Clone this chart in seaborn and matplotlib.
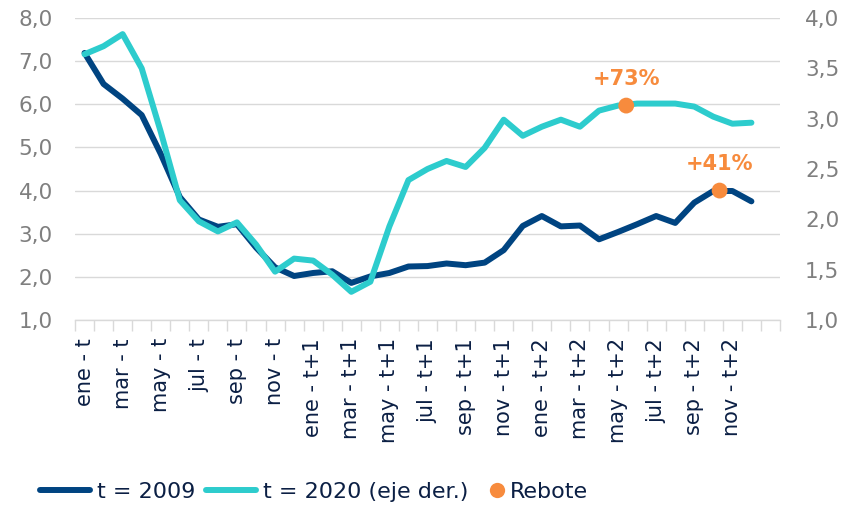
import numpy as np
import pandas as pd
import matplotlib
matplotlib.use("Agg")
import matplotlib.pyplot as plt
from matplotlib.lines import Line2D
import seaborn as sns

# Monthly series (36 months from "ene - t" to "dic - t+2")
serie_2009 = [7.19, 6.47, 6.13, 5.75, 4.85, 3.85, 3.33, 3.16, 3.22, 2.68,
              2.22, 2.02, 2.09, 2.13, 1.86, 2.01, 2.09, 2.24, 2.25, 2.31,
              2.27, 2.33, 2.62, 3.18, 3.41, 3.17, 3.19, 2.87, 3.04, 3.22,
              3.41, 3.25, 3.72, 3.99, 3.99, 3.75]
serie_2020 = [3.64, 3.72, 3.84, 3.50, 2.87, 2.19, 1.98, 1.88, 1.97, 1.75,
              1.48, 1.61, 1.59, 1.45, 1.28, 1.38, 1.93, 2.39, 2.50, 2.58,
              2.52, 2.71, 2.99, 2.83, 2.92, 2.99, 2.92, 3.08, 3.13, 3.15,
              3.15, 3.15, 3.12, 3.02, 2.95, 2.96]

x_labels = ["ene - t", "mar - t", "may - t", "jul - t", "sep - t", "nov - t",
            "ene - t+1", "mar - t+1", "may - t+1", "jul - t+1", "sep - t+1", "nov - t+1",
            "ene - t+2", "mar - t+2", "may - t+2", "jul - t+2", "sep - t+2", "nov - t+2"]
n_categories = 37

# Rebound markers: 2020 (right axis) and 2009 (left axis)
rebote_2020_x, rebote_2020_y, rebote_2020_txt = 28.43, 3.13, "+73%"
rebote_2009_x, rebote_2009_y, rebote_2009_txt = 33.33, 4.0, "+41%"

left_ticks = [1, 2, 3, 4, 5, 6, 7, 8]
right_ticks = [1.0, 1.5, 2.0, 2.5, 3.0, 3.5, 4.0]

NAVY = "#004481"
AQUA = "#2DCCCD"
ORANGE = "#F78B3D"
TEXT_NAVY = "#0B1F44"
GREY = "#7F7F7F"
GRID = "#D9D9D9"

sns.set_theme(style="white")
plt.rcParams["font.family"] = ["DejaVu Sans"]

df = pd.DataFrame({"pos": np.arange(len(serie_2009)),
                   "v2009": serie_2009, "v2020": serie_2020})

fig = plt.figure(figsize=(8.44, 5.05), dpi=100)
ax = fig.add_axes([75 / 844, 185 / 505, 705 / 844, 302 / 505])

sns.lineplot(data=df, x="pos", y="v2009", ax=ax, color=NAVY, lw=4.3,
             solid_capstyle="round", solid_joinstyle="round", legend=False)

ax2 = ax.twinx()
sns.lineplot(data=df, x="pos", y="v2020", ax=ax2, color=AQUA, lw=4.3,
             solid_capstyle="round", solid_joinstyle="round", legend=False)

# Rebound dots and labels
sns.scatterplot(x=[rebote_2009_x], y=[rebote_2009_y], ax=ax, color=ORANGE,
                s=130, edgecolor="none", zorder=5, legend=False)
sns.scatterplot(x=[rebote_2020_x], y=[rebote_2020_y], ax=ax2, color=ORANGE,
                s=130, edgecolor="none", zorder=5, legend=False)
ax.annotate(rebote_2009_txt, xy=(rebote_2009_x, rebote_2009_y), xytext=(0, 19),
            textcoords="offset points", ha="center", va="center",
            fontsize=15, fontweight="bold", color=ORANGE)
ax2.annotate(rebote_2020_txt, xy=(rebote_2020_x, rebote_2020_y), xytext=(0, 19),
             textcoords="offset points", ha="center", va="center",
             fontsize=15, fontweight="bold", color=ORANGE)

# Axes limits and ticks
ax.set_xlim(-0.5, n_categories - 0.5)
ax.set_ylim(1, 8)
ax2.set_ylim(1, 4)

ax.set_xticks(np.arange(0, 2 * len(x_labels), 2))
ax.set_xticklabels(x_labels, rotation=90, ha="center", va="top")
ax.set_xticks(np.arange(-0.5, n_categories, 1), minor=True)
ax.tick_params(axis="x", which="major", length=0, pad=13, labelsize=15,
               labelcolor=TEXT_NAVY)
ax.tick_params(axis="x", which="minor", length=8, width=1, color=GRID,
               direction="out", bottom=True)

ax.set_yticks(left_ticks)
ax.set_yticklabels([f"{v:.1f}".replace(".", ",") for v in left_ticks])
ax.tick_params(axis="y", length=0, pad=16, labelsize=15.5, labelcolor=GREY)
ax2.set_yticks(right_ticks)
ax2.set_yticklabels([f"{v:.1f}".replace(".", ",") for v in right_ticks])
ax2.tick_params(axis="y", length=0, pad=18, labelsize=15.5, labelcolor=GREY)

ax.set_xlabel("")
ax.set_ylabel("")
ax2.set_ylabel("")

ax.yaxis.grid(True, color=GRID, lw=1)
ax.set_axisbelow(True)
ax2.grid(False)
for s in ["top", "left", "right"]:
    ax.spines[s].set_visible(False)
for s in ["top", "left", "right", "bottom"]:
    ax2.spines[s].set_visible(False)
ax.spines["bottom"].set_color(GRID)
ax.spines["bottom"].set_linewidth(1)

# Legend row below the chart
ly = 1 - 491.7 / 505
common = dict(loc="center left", frameon=False, fontsize=16, borderpad=0,
              borderaxespad=0, labelcolor=TEXT_NAVY)
h1 = Line2D([], [], color=NAVY, lw=4.3, solid_capstyle="round")
h2 = Line2D([], [], color=AQUA, lw=4.3, solid_capstyle="round")
h3 = Line2D([], [], color=ORANGE, lw=0, marker="o", markersize=11,
            markeredgewidth=0)
fig.legend(handles=[h1], labels=["t = 2009"], bbox_to_anchor=(40 / 844, ly),
           handlelength=2.25, handletextpad=0.3, **common)
fig.legend(handles=[h2], labels=["t = 2020 (eje der.)"],
           bbox_to_anchor=(206 / 844, ly),
           handlelength=2.25, handletextpad=0.3, **common)
fig.legend(handles=[h3], labels=["Rebote"], bbox_to_anchor=(488 / 844, ly),
           handlelength=0.8, handletextpad=0.2, **common)

fig.savefig("out.png", dpi=100)
